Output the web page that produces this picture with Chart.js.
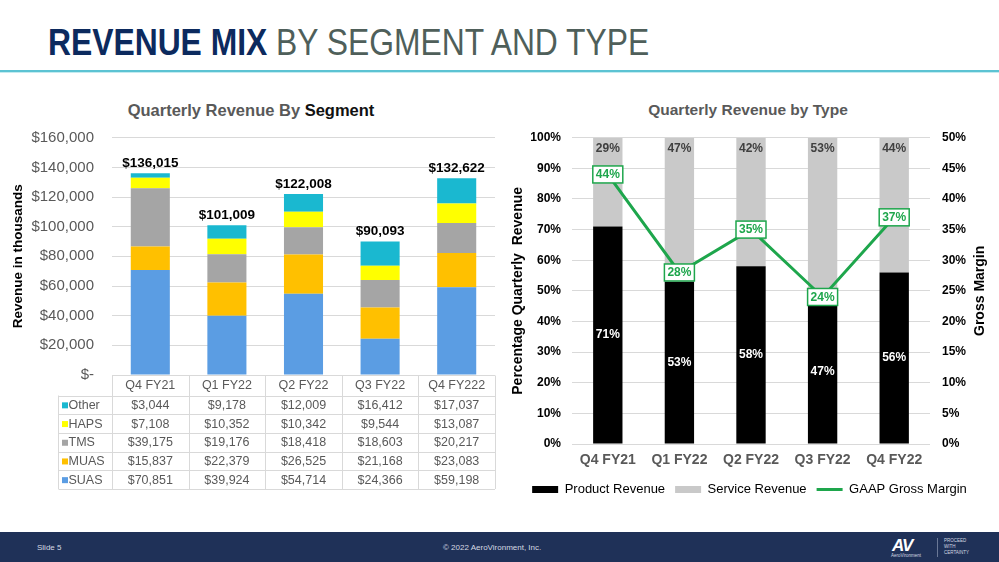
<!DOCTYPE html>
<html>
<head>
<meta charset="utf-8">
<script src="https://cdn.jsdelivr.net/npm/chart.js@4.4.1/dist/chart.umd.min.js"></script>
<style>
  body { margin: 0; background: #fff; font-family: "Liberation Sans", Arial, sans-serif; }
  #slide { position: relative; width: 999px; height: 562px; overflow: hidden; background: #fff; }
  #title { position: absolute; left: 48px; top: 22px; font-size: 37px; white-space: nowrap;
           transform: scaleX(0.86); transform-origin: left top; letter-spacing: 0; }
  #title b { color: #0c2a5e; }
  #title span { color: #4f5f5a; }
  #rule { position: absolute; left: 0; top: 70px; width: 999px; height: 2px; background: #5cc3d3; }
  #rule2 { position: absolute; left: 0; top: 72px; width: 999px; height: 1px; background: #c4ebf0; }
  .ctitle { position: absolute; top: 101px; font-weight: bold; font-size: 16.5px; color: #595959;
            transform: translateX(-50%); white-space: nowrap; }
  canvas { position: absolute; }
  #footer { position: absolute; left: 0; top: 532px; width: 999px; height: 30px; background: #1f3158; color: #d5d9e2; }
  #footer .t { position: absolute; top: 11px; font-size: 8px; white-space: nowrap; }
</style>
</head>
<body>
<div id="slide">
  <div id="title"><b>REVENUE MIX</b><span> BY SEGMENT AND TYPE</span></div>
  <div id="rule"></div><div id="rule2"></div>

  <div class="ctitle" style="left:251px">Quarterly Revenue By <span style="color:#111">Segment</span></div>
  <div class="ctitle" style="left:748px; font-size:15.5px">Quarterly Revenue by Type</div>

  <canvas id="segChart" width="500" height="410" style="left:0; top:90px"></canvas>
  <canvas id="typeChart" width="499" height="420" style="left:500px; top:90px"></canvas>

  <div id="footer">
    <div class="t" style="left:37px">Slide 5</div>
    <div class="t" style="left:443px">© 2022 AeroVironment, Inc.</div>
    <div class="t" style="left:892px; top:4px; font-size:17px; font-weight:bold; font-style:italic; color:#fff; letter-spacing:-1px">AV</div>
    <div class="t" style="left:891px; top:21px; font-size:4.5px">AeroVironment</div>
    <div style="position:absolute; left:937px; top:6px; width:1px; height:19px; background:#6a7896"></div>
    <div class="t" style="left:944px; top:6px; font-size:4.5px; line-height:6px">PROCEED<br>WITH<br>CERTAINTY</div>
  </div>
</div>

<script>
const FONT = '"Liberation Sans", Arial, sans-serif';

// left chart: revenue by segment, in thousands
const quarters = ['Q4 FY21', 'Q1 FY22', 'Q2 FY22', 'Q3 FY22', 'Q4 FY222'];
const suas = [70851, 39924, 54714, 24366, 59198];
const muas = [15837, 22379, 26525, 21168, 23083];
const tms = [39175, 19176, 18418, 18603, 20217];
const haps = [7108, 10352, 10342, 9544, 13087];
const other = [3044, 9178, 12009, 16412, 17037];

// right chart: revenue by type
const typeQuarters = ['Q4 FY21', 'Q1 FY22', 'Q2 FY22', 'Q3 FY22', 'Q4 FY22'];
const productPct = [71, 53, 58, 47, 56];
const servicePct = [29, 47, 42, 53, 44];
const grossMargin = [44, 28, 35, 24, 37];

const money = v => '$' + v.toLocaleString('en-US');

const segments = [
    { label: 'SUAS', data: suas, color: '#5b9de3' },
    { label: 'MUAS', data: muas, color: '#ffc000' },
    { label: 'TMS', data: tms, color: '#a5a5a5' },
    { label: 'HAPS', data: haps, color: '#ffff00' },
    { label: 'Other', data: other, color: '#1ab8d0' }
];

// totals above the stacks + the data table under the axis
const segPlugin = {
    id: 'segTable',
    afterDatasetsDraw(chart) {
        const ctx = chart.ctx;
        const top = chart.getDatasetMeta(segments.length - 1);
        ctx.save();
        ctx.font = 'bold 13.5px ' + FONT;
        ctx.fillStyle = '#000';
        ctx.textAlign = 'center';
        ctx.textBaseline = 'bottom';
        quarters.forEach((q, i) => {
            const total = segments.reduce((s, d) => s + d.data[i], 0);
            const bar = top.data[i];
            ctx.fillText(money(total), bar.x, bar.y - 3);
        });
        ctx.restore();
    },
    afterDraw(chart) {
        const ctx = chart.ctx;
        const x = chart.scales.x, y = chart.scales.y;
        const n = quarters.length;
        const w = (x.right - x.left) / n;
        const headTop = y.bottom + 0.5;
        const headBottom = headTop + 20;
        const rowH = 18.7;
        const tableLeft = 58.5;
        const rows = segments.slice().reverse();
        const bottom = headBottom + rowH * rows.length;
        ctx.save();
        ctx.strokeStyle = '#d9d9d9';
        ctx.lineWidth = 1;
        ctx.beginPath();
        ctx.moveTo(x.left, headTop); ctx.lineTo(x.right, headTop);
        for (let r = 0; r <= rows.length; r++) {
            const yy = Math.round(headBottom + r * rowH) + 0.5;
            ctx.moveTo(tableLeft, yy); ctx.lineTo(x.right, yy);
        }
        for (let c = 0; c <= n; c++) {
            const xx = Math.round(x.left + c * w) + 0.5;
            ctx.moveTo(xx, headTop); ctx.lineTo(xx, bottom);
        }
        ctx.moveTo(tableLeft, headBottom); ctx.lineTo(tableLeft, bottom);
        ctx.stroke();

        ctx.font = '12.5px ' + FONT;
        ctx.textBaseline = 'middle';
        ctx.fillStyle = '#595959';
        ctx.textAlign = 'center';
        quarters.forEach((q, i) => ctx.fillText(q, x.getPixelForValue(i), (headTop + headBottom) / 2 + 0.5));
        rows.forEach((seg, r) => {
            const cy = headBottom + r * rowH + rowH / 2 + 0.5;
            ctx.fillStyle = seg.color;
            ctx.fillRect(62, cy - 3, 6, 6);
            ctx.fillStyle = '#595959';
            ctx.textAlign = 'left';
            ctx.fillText(seg.label, 68.5, cy);
            ctx.textAlign = 'center';
            seg.data.forEach((v, i) => ctx.fillText(money(v), x.getPixelForValue(i), cy));
        });
        ctx.restore();
    }
};

new Chart(document.getElementById('segChart'), {
    type: 'bar',
    data: {
        labels: quarters,
        datasets: segments.map(s => ({
            label: s.label,
            data: s.data,
            backgroundColor: s.color,
            barPercentage: 0.51,
            categoryPercentage: 1
        }))
    },
    options: {
        responsive: false,
        animation: false,
        layout: { padding: { top: 47.7, right: 5, bottom: 11, left: 0 } },
        plugins: { legend: { display: false }, tooltip: { enabled: false } },
        scales: {
            x: {
                stacked: true,
                grid: { display: false, drawTicks: false },
                border: { display: false },
                ticks: { display: false },
                afterFit: s => { s.height = 114; }
            },
            y: {
                stacked: true,
                min: 0,
                max: 160000,
                border: { display: false },
                grid: { color: '#d9d9d9', drawTicks: false },
                ticks: {
                    stepSize: 20000,
                    padding: 18,
                    color: '#595959',
                    font: { family: FONT, size: 15 },
                    callback: v => v === 0 ? '$-' : money(v)
                },
                title: {
                    display: true,
                    text: 'Revenue in thousands',
                    color: '#000',
                    font: { family: FONT, size: 13.5, weight: 'bold' },
                    padding: { top: 10, bottom: 0 }
                },
                afterFit: s => { s.width = 112; }
            }
        }
    },
    plugins: [segPlugin]
});

const GREEN = '#1ea64c';

const typePlugin = {
    id: 'typeLabels',
    afterDatasetsDraw(chart) {
        const ctx = chart.ctx;
        const prod = chart.getDatasetMeta(0), serv = chart.getDatasetMeta(1), line = chart.getDatasetMeta(2);
        ctx.save();
        ctx.font = 'bold 12px ' + FONT;
        ctx.textAlign = 'center';
        ctx.textBaseline = 'middle';
        prod.data.forEach((bar, i) => {
            ctx.fillStyle = '#fff';
            ctx.fillText(productPct[i] + '%', bar.x, (bar.y + bar.base) / 2);
        });
        serv.data.forEach((bar, i) => {
            ctx.fillStyle = '#404040';
            ctx.fillText(servicePct[i] + '%', bar.x, bar.y + 11);
        });
        line.data.forEach((pt, i) => {
            ctx.fillStyle = '#fff';
            ctx.fillRect(pt.x - 15, pt.y - 8.5, 30, 17);
            ctx.strokeStyle = GREEN;
            ctx.lineWidth = 1.5;
            ctx.strokeRect(pt.x - 15, pt.y - 8.5, 30, 17);
            ctx.fillStyle = GREEN;
            ctx.fillText(grossMargin[i] + '%', pt.x, pt.y + 0.5);
        });
        ctx.restore();
    },
    afterDraw(chart) {
        const ctx = chart.ctx;
        const a = chart.chartArea;
        ctx.save();
        ctx.translate(480, (a.top + a.bottom) / 2);
        ctx.rotate(-Math.PI / 2);
        ctx.font = 'bold 14px ' + FONT;
        ctx.fillStyle = '#000';
        ctx.textAlign = 'center';
        ctx.textBaseline = 'middle';
        ctx.fillText('Gross Margin', 0, 0);
        ctx.restore();
    }
};

new Chart(document.getElementById('typeChart'), {
    type: 'bar',
    data: {
        labels: typeQuarters,
        datasets: [
            {
                label: 'Product Revenue',
                data: productPct,
                backgroundColor: '#000',
                pointStyle: 'rect',
                barPercentage: 0.41,
                categoryPercentage: 1,
                stack: 'rev'
            },
            {
                label: 'Service Revenue',
                data: servicePct,
                backgroundColor: '#c9c9c9',
                pointStyle: 'rect',
                barPercentage: 0.41,
                categoryPercentage: 1,
                stack: 'rev'
            },
            {
                type: 'line',
                label: 'GAAP Gross Margin',
                data: grossMargin,
                yAxisID: 'y1',
                borderColor: GREEN,
                backgroundColor: GREEN,
                borderWidth: 3,
                pointRadius: 0,
                pointStyle: 'line',
                tension: 0,
                order: -1
            }
        ]
    },
    options: {
        responsive: false,
        animation: false,
        layout: { padding: { top: 47.7, right: 0, bottom: 4, left: 0 } },
        plugins: {
            tooltip: { enabled: false },
            legend: {
                position: 'bottom',
                labels: {
                    usePointStyle: true,
                    pointStyleWidth: 26,
                    boxHeight: 7,
                    padding: 10,
                    color: '#000',
                    font: { family: FONT, size: 13 },
                    sort: (a, b) => a.datasetIndex - b.datasetIndex
                }
            }
        },
        scales: {
            x: {
                stacked: true,
                grid: { display: false, drawTicks: false },
                border: { display: false },
                ticks: { color: '#595959', font: { family: FONT, size: 14, weight: 'bold' }, padding: 8 },
                afterFit: s => { s.height = 29; }
            },
            y: {
                stacked: true,
                min: 0,
                max: 100,
                border: { display: false },
                grid: { color: '#d9d9d9', drawTicks: false },
                ticks: {
                    stepSize: 10,
                    padding: 11,
                    color: '#000',
                    font: { family: FONT, size: 12, weight: 'bold' },
                    callback: v => v + '%'
                },
                title: {
                    display: true,
                    text: 'Percentage Quarterly  Revenue',
                    color: '#000',
                    font: { family: FONT, size: 14, weight: 'bold' },
                    padding: { top: 10, bottom: 0 }
                },
                afterFit: s => { s.width = 72; }
            },
            y1: {
                position: 'right',
                min: 0,
                max: 50,
                border: { display: false },
                grid: { display: false, drawTicks: false },
                ticks: {
                    stepSize: 5,
                    padding: 12,
                    color: '#000',
                    font: { family: FONT, size: 12, weight: 'bold' },
                    callback: v => v + '%'
                },
                afterFit: s => { s.width = 69; }
            }
        }
    },
    plugins: [typePlugin]
});
</script>
</body>
</html>
